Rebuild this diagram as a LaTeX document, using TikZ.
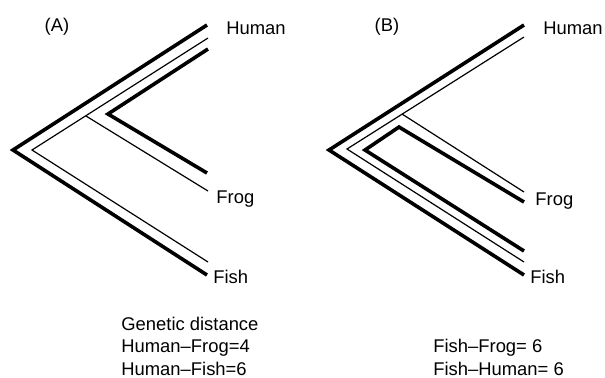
\documentclass[tikz,border=0pt]{standalone}
\usepackage{fontspec}
\setmainfont{Liberation Sans}
\usetikzlibrary{positioning}

\begin{document}
\begin{tikzpicture}[
  x=0.5pt, y=-0.5pt,
  thickbranch/.style={draw,line width=1.8pt,line join=miter},
  thinbranch/.style={draw,line width=0.6pt,line join=miter},
  every node/.style={font=\fontsize{9.2}{11.2}\selectfont,inner sep=0pt}
]
  \useasboundingbox (0,0) rectangle (605,377);

  % tree (A)
  \coordinate (rootA) at (13,150);
  \coordinate (humanA) at (207,25);
  \coordinate (fishA) at (207,275);
  \coordinate (thinrootA) at (32,150);
  \coordinate (thinhumanA) at (208,38);
  \coordinate (thinfishA) at (208,262);
  \coordinate (forkA) at (86,116);
  \coordinate (thinfrogA) at (208,191);
  \coordinate (innerhumanA) at (208,49);
  \coordinate (innerrootA) at (108,114);
  \coordinate (innerfrogA) at (207,173);
  \path[thickbranch] (humanA) -- (rootA) -- (fishA);
  \path[thinbranch] (thinhumanA) -- (thinrootA) -- (thinfishA);
  \path[thinbranch] (forkA) -- (thinfrogA);
  \path[thickbranch] (innerhumanA) -- (innerrootA) -- (innerfrogA);

  % tree (B)
  \coordinate (rootB) at (329,150);
  \coordinate (humanB) at (524,25);
  \coordinate (fishB) at (524,275);
  \coordinate (thinrootB) at (347,149);
  \coordinate (thinhumanB) at (524,37);
  \coordinate (thinfishB) at (524,262);
  \coordinate (forkB) at (402,114);
  \coordinate (thinfrogB) at (524,192);
  \coordinate (innerfrogB) at (524,202);
  \coordinate (innertopB) at (399,127);
  \coordinate (innerrootB) at (365,150);
  \coordinate (innerfishB) at (524,251);
  \path[thickbranch] (humanB) -- (rootB) -- (fishB);
  \path[thinbranch] (thinhumanB) -- (thinrootB) -- (thinfishB);
  \path[thinbranch] (forkB) -- (thinfrogB);
  \path[thickbranch] (innerfrogB) -- (innertopB) -- (innerrootB) -- (innerfishB);

  % labels
  \node (tagA) at (57,27) {(A)};
  \node (tagB) at (387,27) {(B)};
  \node (labhumanA) at (226,28) [anchor=west] {Human};
  \node (labfrogA) at (216,199) [anchor=west] {Frog};
  \node (labfishA) at (213,277) [anchor=west] {Fish};
  \node (labhumanB) at (543,28) [anchor=west] {Human};
  \node (labfrogB) at (535,201) [anchor=west] {Frog};
  \node (labfishB) at (530,277) [anchor=west] {Fish};

  \node (distA) at (121,375) [anchor=base west,align=left] {Genetic distance\\Human--Frog=4\\Human--Fish=6};
  \node (distB) at (433,375) [anchor=base west,align=left] {Fish--Frog= 6\\Fish--Human= 6};
\end{tikzpicture}
\end{document}
